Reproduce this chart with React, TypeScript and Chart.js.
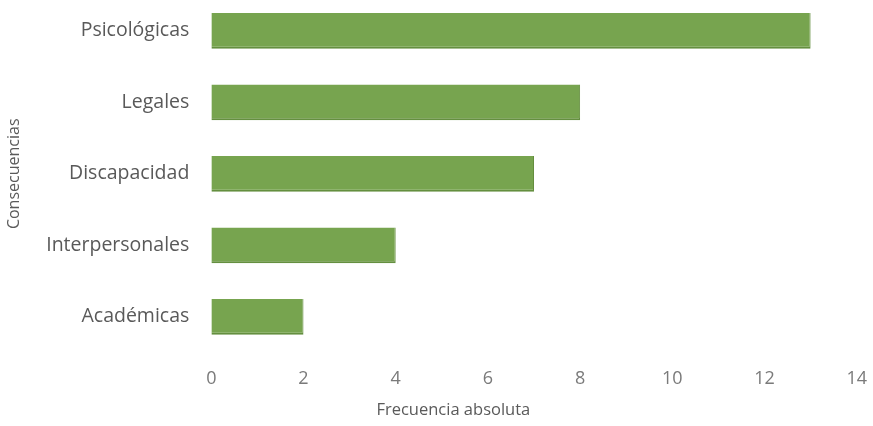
import React, { useEffect, useRef } from "react";
import { Chart, registerables } from "chart.js";

Chart.register(...registerables);

const categories = ["Psicológicas", "Legales", "Discapacidad", "Interpersonales", "Académicas"];
const values = [13, 8, 7, 4, 2];
const xTitle = "Frecuencia absoluta";
const yTitle = "Consecuencias";
const xMin = 0;
const xMax = 14;
const xStep = 2;

const SHIFT = 45;
const W = 873;
const H = 426 + SHIFT;
const FONT = "'Open Sans', 'Noto Sans', sans-serif";
const X_TITLE_FRACTION = 0.375;

const xTitlePlugin = {
  id: "xTitleOffset",
  afterDraw(chart: any) {
    const { ctx, chartArea, scales } = chart;
    const xs = scales.x;
    const cx = chartArea.left + (chartArea.right - chartArea.left) * X_TITLE_FRACTION;
    const lineH = 16.5 * 1.2;
    const cy = xs.bottom - lineH / 2;
    ctx.save();
    ctx.font = `16.5px ${FONT}`;
    ctx.fillStyle = "#5a5a5a";
    ctx.textAlign = "center";
    ctx.textBaseline = "middle";
    ctx.fillText(xTitle, cx, cy);
    ctx.restore();
  },
};

export default function App() {
  const ref = useRef<HTMLCanvasElement | null>(null);
  useEffect(() => {
    if (!ref.current) return;
    const chart = new Chart(ref.current, {
      type: "bar",
      data: {
        labels: categories,
        datasets: [
          {
            data: values,
            backgroundColor: "#77a44f",
            borderColor: "#648f3f",
            borderWidth: { bottom: 2, right: 1, top: 0, left: 0 } as any,
            borderSkipped: false,
            barPercentage: 0.5,
            categoryPercentage: 1,
          },
        ],
      },
      options: {
        indexAxis: "y",
        responsive: false,
        animation: false,
        layout: { padding: { top: 40, right: 0, left: 0, bottom: 6 } },
        plugins: { legend: { display: false }, tooltip: { enabled: false } },
        scales: {
          x: {
            min: xMin,
            max: xMax,
            ticks: { stepSize: xStep, color: "#7a7a7a", font: { family: FONT, size: 18 }, padding: 6 },
            grid: { display: false, drawTicks: true, tickLength: 9 },
            border: { display: false },
            title: { display: true, text: xTitle, color: "rgba(0,0,0,0)", font: { family: FONT, size: 16.5 }, padding: { top: 5, bottom: 0 } },
          },
          y: {
            ticks: { color: "#595959", font: { family: FONT, size: 19.5 }, padding: 22 },
            grid: { display: false, drawTicks: false },
            border: { display: false },
            title: { display: true, text: yTitle, color: "#5a5a5a", font: { family: FONT, size: 16 }, padding: { top: 5, bottom: 0 } },
          },
        },
      },
      plugins: [xTitlePlugin],
    });
    return () => chart.destroy();
  }, []);
  return (
    <div style={{ position: "absolute", left: 0, top: -SHIFT, width: W, height: H, background: "#fff" }}>
      <canvas ref={ref} width={W} height={H} />
    </div>
  );
}
